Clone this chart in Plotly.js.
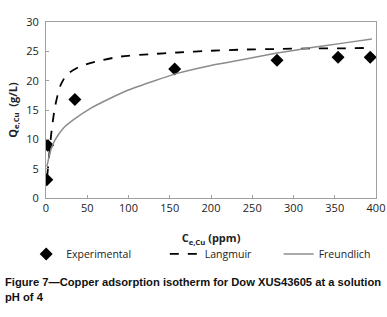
<!DOCTYPE html>
<html><head><meta charset="utf-8">
<script src="https://cdn.plot.ly/plotly-3.0.1.min.js"></script>
<style>html,body{margin:0;padding:0;background:#fff;}#chart{width:387px;height:317px;}</style>
</head><body><div id="chart"></div>
<script>
// Experimental points
const expC = [1, 2, 35, 156, 280, 354, 393];
const expQ = [3.1, 9.0, 16.8, 22.0, 23.5, 24.0, 24.0];
// Langmuir fit curve
const lanC = [1.5, 3, 5, 7, 11, 17, 25, 41, 65, 90, 125, 160, 200, 240, 280, 320, 360, 395];
const lanQ = [3.8, 6.0, 9.0, 11.8, 15.6, 19.0, 21.0, 22.4, 23.4, 24.1, 24.5, 24.8, 25.1, 25.3, 25.4, 25.5, 25.5, 25.6];
// Freundlich fit curve
const freC = [1, 3, 5, 8, 11, 16, 21, 33, 53, 78, 100, 130, 158, 200, 239, 280, 320, 360, 395];
const freQ = [5.3, 6.6, 7.8, 9.0, 9.9, 11.0, 11.9, 13.3, 15.2, 17.0, 18.4, 19.9, 21.2, 22.6, 23.6, 24.7, 25.6, 26.4, 27.1];

const fontFam = '"Open Sans", "Liberation Sans", sans-serif';
const traces = [
  {x: expC, y: expQ, name: 'Experimental', type: 'scatter', mode: 'markers', legend: 'legend',
   marker: {symbol: 'diamond', size: 10, color: '#000'}},
  {x: lanC, y: lanQ, name: 'Langmuir', type: 'scatter', mode: 'lines', legend: 'legend2',
   line: {color: '#000', width: 1.8, dash: 'dash', shape: 'spline', smoothing: 0.6}},
  {x: freC, y: freQ, name: 'Freundlich', type: 'scatter', mode: 'lines', legend: 'legend3',
   line: {color: '#8c8c8c', width: 1.5, shape: 'spline', smoothing: 0.6}}
];
const legBase = {orientation: 'h', y: -0.318, xanchor: 'left', yanchor: 'middle',
                 bgcolor: 'rgba(0,0,0,0)', font: {size: 10.5, color: '#222'}};
const layout = {
  width: 387, height: 317,
  margin: {l: 46, r: 11, t: 22, b: 119},
  paper_bgcolor: '#fff', plot_bgcolor: '#fff',
  font: {family: fontFam, size: 11, color: '#222'},
  showlegend: true,
  legend: Object.assign({}, legBase, {x: -0.06}),
  legend2: Object.assign({}, legBase, {x: 0.36}),
  legend3: Object.assign({}, legBase, {x: 0.705}),
  xaxis: {range: [0, 400], dtick: 50, showgrid: false, zeroline: false,
          showline: true, linecolor: '#a0a0a0', mirror: true, linewidth: 1,
          ticks: 'inside', ticklen: 3, tickcolor: '#a0a0a0',
          title: {text: '<b>C<sub>e,Cu</sub> (ppm)</b>', font: {size: 11}, standoff: 20}},
  yaxis: {range: [0, 30], dtick: 5, showgrid: false, zeroline: false,
          showline: true, linecolor: '#a0a0a0', mirror: true, linewidth: 1,
          ticks: 'inside', ticklen: 3, tickcolor: '#a0a0a0', ticklabelstandoff: 4,
          title: {text: '<b>Q<sub>e,Cu</sub>  (g/L)</b>', font: {size: 11}, standoff: 6}},
  annotations: [
    {xref: 'paper', yref: 'paper', x: -0.13, y: -0.43, xanchor: 'left', yanchor: 'top',
     align: 'left', showarrow: false,
     text: '<b>Figure 7\u2014Copper adsorption isotherm for Dow XUS43605 at a solution<br>pH of 4</b>',
     font: {family: '"Liberation Sans", Arial, sans-serif', size: 11.2, color: '#111'}}
  ]
};
Plotly.newPlot('chart', traces, layout, {displayModeBar: false, staticPlot: true});
</script></body></html>
